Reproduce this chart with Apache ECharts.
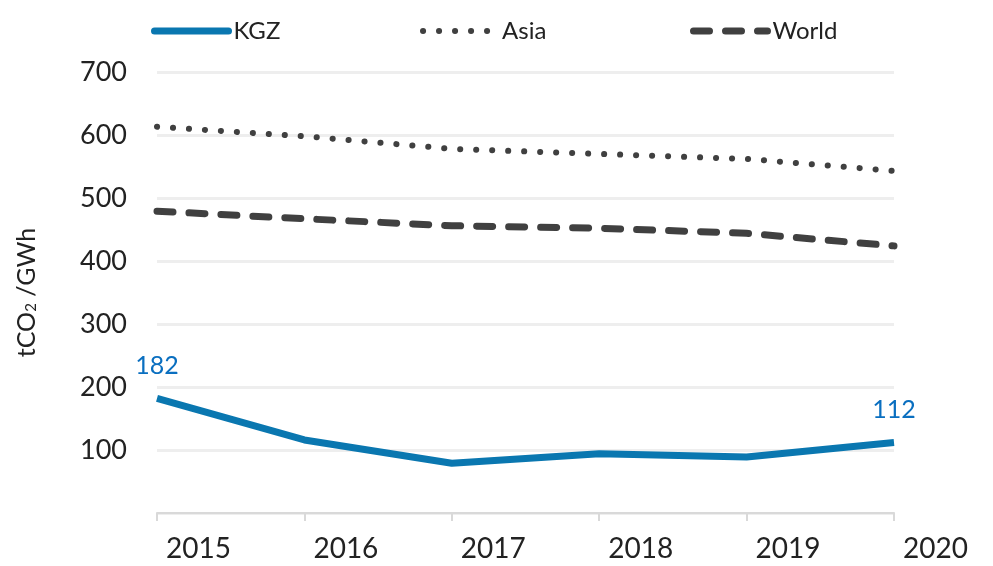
<!DOCTYPE html>
<html>
<head>
<meta charset="utf-8">
<script src="https://cdn.jsdelivr.net/npm/echarts@6/dist/echarts.min.js"></script>
<style>
  html, body { margin: 0; padding: 0; background: #fff; }
  #chart { width: 993px; height: 566px; }
</style>
</head>
<body>
<div id="chart"></div>
<script>
var years = ['2015', '2016', '2017', '2018', '2019', '2020'];
var kgz = [182, 116, 79, 94, 89, 112];
var asia = [613, 598, 578, 570, 562, 543];
var world = [479, 467, 456, 452, 444, 424];

var blue = '#0a77b0';
var dark = '#404040';
var font = 'Lato';

// only first and last KGZ points carry a value label
var kgzData = kgz.map(function(v, i) {
  var edge = i === 0 || i === kgz.length - 1;
  return { value: v, label: { show: edge } };
});

function legendAt(name, left) {
  return {
    left: left,
    top: 19,
    padding: 0,
    itemWidth: 74,
    itemHeight: 16,
    itemStyle: { opacity: 0 },
    lineStyle: { width: 'inherit', cap: 'round' },
    textStyle: { fontSize: 24, color: '#222' },
    data: [name]
  };
}

var chart = echarts.init(document.getElementById('chart'));
chart.setOption({
  animation: false,
  textStyle: { fontFamily: font },
  legend: [legendAt('KGZ', 151), legendAt('Asia', 420), legendAt('World', 690)],
  grid: { left: 157, right: 99, top: 72, bottom: 53 },
  xAxis: {
    type: 'category',
    data: years,
    boundaryGap: false,
    axisLine: { lineStyle: { color: '#d9d9d9', width: 2 } },
    axisTick: { show: true, length: 8, lineStyle: { color: '#d9d9d9', width: 2 } },
    axisLabel: { color: '#222', fontSize: 28, margin: 22, align: 'left', padding: [0, 0, 0, 9] }
  },
  yAxis: {
    type: 'value',
    min: 0,
    max: 700,
    interval: 100,
    name: 'tCO{sub|2} /GWh',
    nameLocation: 'middle',
    nameGap: 118,
    nameTextStyle: {
      fontSize: 25, color: '#222',
      rich: { sub: { fontSize: 15, color: '#222', padding: [10, 0, 0, 0] } }
    },
    axisLine: { show: false },
    axisTick: { show: false },
    splitLine: { lineStyle: { color: '#eeeeee', width: 3 } },
    axisLabel: {
      color: '#222', fontSize: 27, margin: 30,
      formatter: function(v) { return v === 0 ? '' : v; }
    }
  },
  series: [
    {
      name: 'KGZ',
      type: 'line',
      data: kgzData,
      symbol: 'circle',
      symbolSize: 0.01,
      color: blue,
      lineStyle: { color: blue, width: 7 },
      label: { show: false, position: 'top', distance: 20, color: '#0a6fc0', fontSize: 25 },
      z: 3
    },
    {
      name: 'Asia',
      type: 'line',
      data: asia,
      symbol: 'none',
      color: dark,
      lineStyle: { color: dark, width: 6, type: [0.1, 15.9], cap: 'round' }
    },
    {
      name: 'World',
      type: 'line',
      data: world,
      symbol: 'none',
      color: dark,
      lineStyle: { color: dark, width: 7, type: [16, 16], cap: 'round' }
    }
  ]
});
</script>
</body>
</html>
